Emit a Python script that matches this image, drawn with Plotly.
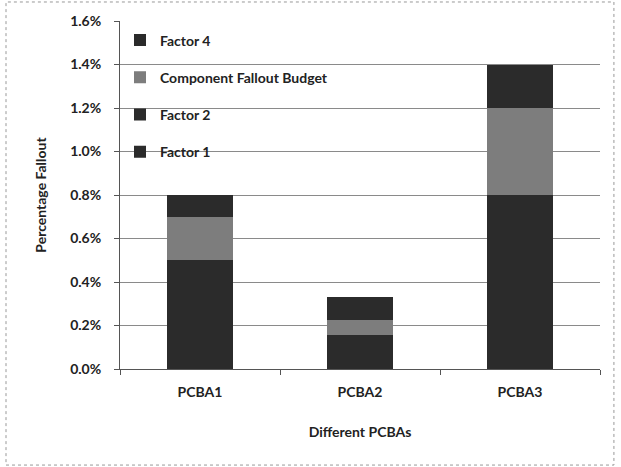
import plotly.graph_objects as go

categories = ["PCBA1", "PCBA2", "PCBA3"]
factor1 = [0.005, 0.00155, 0.008]
factor2 = [0.0, 0.0, 0.0]
component_budget = [0.002, 0.0007, 0.004]
factor4 = [0.001, 0.00105, 0.002]
y_ticks = [0, 0.002, 0.004, 0.006, 0.008, 0.010, 0.012, 0.014, 0.016]

dark = "#2b2b2b"
gray = "#7d7d7d"
font_family = "Lato, 'Open Sans', sans-serif"

fig = go.Figure()
series = [
    ("Factor 1", factor1, dark, 4),
    ("Factor 2", factor2, dark, 3),
    ("Component Fallout Budget", component_budget, gray, 2),
    ("Factor 4", factor4, dark, 1),
]
for i, (name, vals, col, rank) in enumerate(series):
    fig.add_trace(go.Bar(
        x=categories, y=vals, name=name,
        marker=dict(color=col, line=dict(width=0)),
        legendgroup=f"g{i}", legendrank=rank,
    ))

fig.update_layout(
    width=621, height=467,
    barmode="stack", bargap=0.59,
    margin=dict(l=120, r=21, t=21, b=98),
    paper_bgcolor="white", plot_bgcolor="white",
    font=dict(family=font_family, size=13, color="#222"),
    showlegend=True,
    legend=dict(
        x=0.0, y=0.99, xanchor="left", yanchor="top",
        bgcolor="rgba(0,0,0,0)", traceorder="grouped",
        tracegroupgap=16, itemwidth=30,
        font=dict(family=font_family, size=14, color="#222", weight="bold"),
    ),
    xaxis=dict(
        showline=True, linecolor="#555", linewidth=1,
        ticks="outside", ticklen=5, tickcolor="#555", tickson="boundaries",
        ticklabelstandoff=10,
        tickfont=dict(size=14, weight="bold", color="#222"),
        title=dict(text="Different PCBAs", font=dict(size=14, weight="bold", color="#222"), standoff=28),
    ),
    yaxis=dict(
        range=[0, 0.016], tickvals=y_ticks, tickformat=".1%",
        showline=True, linecolor="#555", linewidth=1,
        ticks="outside", ticklen=5, tickcolor="#555",
        ticklabelstandoff=10,
        showgrid=True, gridcolor="#8a8a8a", gridwidth=1,
        zeroline=False,
        tickfont=dict(size=14, weight="bold", color="#222"),
        title=dict(text="Percentage Fallout", font=dict(size=14, weight="bold", color="#222"), standoff=20),
    ),
    shapes=[dict(
        type="rect", xref="paper", yref="paper",
        x0=-0.2375, x1=1.029, y0=-0.276, y1=1.0546,
        line=dict(color="#999", width=1, dash="dot"),
    )],
)

fig.write_html("out.html")
